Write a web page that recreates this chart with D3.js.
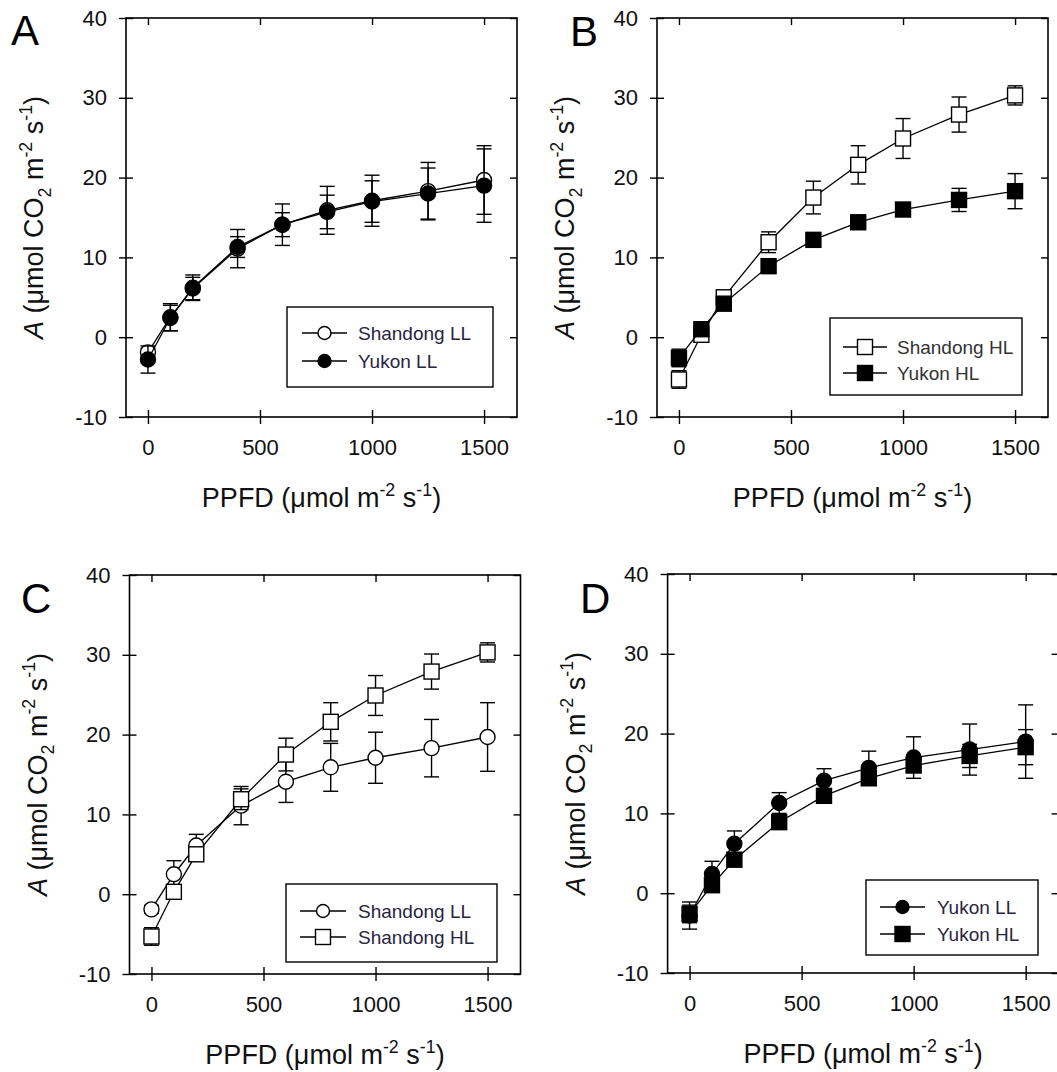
<!DOCTYPE html>
<html>
<head>
<meta charset="utf-8">
<script src="https://cdn.jsdelivr.net/npm/d3@7"></script>
<style>
  html, body { margin: 0; padding: 0; background: #fff; }
  svg { display: block; }
</style>
</head>
<body>
<svg id="fig" width="1057" height="1072"></svg>
<script>
// Light-response curves of net photosynthesis (mean ± SE)
const ppfd = [0, 100, 200, 400, 600, 800, 1000, 1250, 1500];

const shandongLL    = [-1.9, 2.5, 6.1, 11.1, 14.1, 15.9, 17.1, 18.3, 19.7];
const shandongLLErr = [0.5, 1.7, 1.4, 2.4, 2.6, 3.0, 3.2, 3.6, 4.3];
const yukonLL       = [-2.8, 2.4, 6.2, 11.3, 14.1, 15.7, 17.0, 18.0, 19.0];
const yukonLLErr    = [1.7, 1.6, 1.6, 1.3, 1.5, 2.1, 2.6, 3.2, 4.6];
const shandongHL    = [-5.3, 0.3, 5.0, 11.9, 17.5, 21.6, 24.9, 27.9, 30.3];
const shandongHLErr = [1.1, 0.4, 0.5, 1.3, 2.05, 2.4, 2.5, 2.2, 1.2];
const yukonHL       = [-2.6, 1.0, 4.2, 8.9, 12.2, 14.4, 16.0, 17.2, 18.3];
const yukonHLErr    = [1.1, 0.5, 0.5, 0.6, 0.7, 0.8, 0.7, 1.45, 2.2];

const xTicks = [0, 500, 1000, 1500];
const yTicks = [-10, 0, 10, 20, 30, 40];
const xDomain = [-98, 1647];
const yDomain = [-10, 40];

const seriesDefs = {
  "Shandong LL": { values: shandongLL, err: shandongLLErr, shape: "circle", fill: "#fff" },
  "Yukon LL":    { values: yukonLL,    err: yukonLLErr,    shape: "circle", fill: "#000" },
  "Shandong HL": { values: shandongHL, err: shandongHLErr, shape: "square", fill: "#fff" },
  "Yukon HL":    { values: yukonHL,    err: yukonHLErr,    shape: "square", fill: "#000" }
};

const panels = [
  { letter: "A", series: ["Shandong LL", "Yukon LL"] },
  { letter: "B", series: ["Shandong HL", "Yukon HL"] },
  { letter: "C", series: ["Shandong LL", "Shandong HL"] },
  { letter: "D", series: ["Yukon LL", "Yukon HL"] }
];

// page geometry
const W = 391, H = 399;
const frames = {
  A: { left: 126,   top: 18,  letterX: 11,  letterY: 45,  legend: { x: 287, y: 307, w: 206, h: 80, rowY: [333, 361], lineX: [302, 347], textX: 358, color: "#2a2440" } },
  B: { left: 657,   top: 18,  letterX: 570, letterY: 46,  legend: { x: 830, y: 318, w: 192, h: 77, rowY: [347, 373], lineX: [843, 887], textX: 897, color: "#333" } },
  C: { left: 129.5, top: 575, letterX: 21,  letterY: 613, legend: { x: 286, y: 884, w: 211, h: 78, rowY: [911, 937], lineX: [300, 346], textX: 358, color: "#2a2440" } },
  D: { left: 667.6, top: 574, letterX: 580, letterY: 613, legend: { x: 866, y: 880, w: 172, h: 75, rowY: [907, 934], lineX: [880, 925], textX: 937, color: "#2a2440" } }
};

const FONT = "'Liberation Sans', Arial, Helvetica, sans-serif";
const svg = d3.select("#fig");

function richText(sel, parts, size) {
  let shift = 0;
  parts.forEach(p => {
    const target = p.sup ? -0.42 * size : p.sub ? 0.28 * size : 0;
    sel.append("tspan")
      .attr("dy", target - shift)
      .attr("font-size", p.sup || p.sub ? size * 0.66 : size)
      .attr("font-style", p.italic ? "italic" : null)
      .text(p.t);
    shift = target;
  });
}

function marker(g, shape, fill, cx, cy, size) {
  if (shape === "circle") {
    g.append("circle").attr("cx", cx).attr("cy", cy).attr("r", size / 2)
      .attr("fill", fill).attr("stroke", "#000").attr("stroke-width", 1.4);
  } else {
    g.append("rect").attr("x", cx - size / 2).attr("y", cy - size / 2)
      .attr("width", size).attr("height", size)
      .attr("fill", fill).attr("stroke", "#000").attr("stroke-width", 1.4);
  }
}

// plain integers with an ASCII hyphen for negatives
const fmt = d => String(d);

panels.forEach(p => {
  const f = frames[p.letter];
  const g = svg.append("g").attr("transform", `translate(${f.left},${f.top})`);
  const x = d3.scaleLinear().domain(xDomain).range([0, W]);
  const y = d3.scaleLinear().domain(yDomain).range([H, 0]);

  const styleAxis = a => {
    a.select(".domain").remove();
    a.selectAll(".tick line").attr("stroke", "#000").attr("stroke-width", 1.4);
    a.attr("font-family", FONT).attr("font-size", 22);
    a.selectAll(".tick text").attr("fill", "#111");
  };

  // primary axes: ticks straddle the frame, with labels
  g.append("g").call(d3.axisLeft(y).tickValues(yTicks).tickFormat(fmt).tickSize(7).tickPadding(12)).call(styleAxis);
  g.append("g").call(d3.axisRight(y).tickValues(yTicks).tickSize(7).tickFormat("")).call(styleAxis);
  g.append("g").attr("transform", `translate(0,${H})`)
    .call(d3.axisBottom(x).tickValues(xTicks).tickFormat(fmt).tickSize(7).tickPadding(15)).call(styleAxis);
  g.append("g").attr("transform", `translate(0,${H})`)
    .call(d3.axisTop(x).tickValues(xTicks).tickSize(7).tickFormat("")).call(styleAxis);
  // mirrored axes: inward ticks only
  g.append("g").attr("transform", `translate(${W},0)`)
    .call(d3.axisLeft(y).tickValues(yTicks).tickSize(7).tickFormat("")).call(styleAxis);
  g.append("g")
    .call(d3.axisBottom(x).tickValues(xTicks).tickSize(7).tickFormat("")).call(styleAxis);

  g.append("rect").attr("width", W).attr("height", H)
    .attr("fill", "none").attr("stroke", "#000").attr("stroke-width", 1.6);

  // data series
  const line = d3.line().x(d => x(d.x)).y(d => y(d.y));
  p.series.forEach(name => {
    const s = seriesDefs[name];
    const pts = ppfd.map((v, i) => ({ x: v, y: s.values[i], e: s.err[i] }));
    const sg = g.append("g");
    sg.append("path").datum(pts).attr("d", line)
      .attr("fill", "none").attr("stroke", "#000").attr("stroke-width", 1.3);
    pts.forEach(d => {
      const cx = x(d.x), y1 = y(d.y + d.e), y2 = y(d.y - d.e);
      sg.append("line").attr("x1", cx).attr("x2", cx).attr("y1", y1).attr("y2", y2)
        .attr("stroke", "#000").attr("stroke-width", 1.4);
      [y1, y2].forEach(yy => sg.append("line")
        .attr("x1", cx - 7.5).attr("x2", cx + 7.5).attr("y1", yy).attr("y2", yy)
        .attr("stroke", "#000").attr("stroke-width", 1.4));
    });
    pts.forEach(d => marker(sg, s.shape, s.fill, x(d.x), y(d.y), 15));
  });

  // axis titles
  const xt = svg.append("text")
    .attr("x", f.left + W / 2).attr("y", f.top + H + 90)
    .attr("text-anchor", "middle").attr("font-family", FONT).attr("fill", "#111");
  richText(xt, [{ t: "PPFD (μmol m" }, { t: "-2", sup: true }, { t: " s" }, { t: "-1", sup: true }, { t: ")" }], 27);

  const yt = svg.append("text")
    .attr("transform", `translate(${f.left - 83},${f.top + H / 2}) rotate(-90)`)
    .attr("text-anchor", "middle").attr("font-family", FONT).attr("fill", "#111");
  richText(yt, [{ t: "A", italic: true }, { t: " (μmol CO" }, { t: "2", sub: true }, { t: " m" },
    { t: "-2", sup: true }, { t: " s" }, { t: "-1", sup: true }, { t: ")" }], 27);

  // panel letter
  svg.append("text").attr("x", f.letterX).attr("y", f.letterY)
    .attr("font-family", FONT).attr("font-size", 42).attr("fill", "#000").text(p.letter);

  // legend
  const L = f.legend;
  const lg = svg.append("g");
  lg.append("rect").attr("x", L.x).attr("y", L.y).attr("width", L.w).attr("height", L.h)
    .attr("fill", "#fff").attr("stroke", "#000").attr("stroke-width", 1.4);
  p.series.forEach((name, i) => {
    const s = seriesDefs[name];
    const ry = L.rowY[i];
    lg.append("line").attr("x1", L.lineX[0]).attr("x2", L.lineX[1]).attr("y1", ry).attr("y2", ry)
      .attr("stroke", "#000").attr("stroke-width", 1.3);
    marker(lg, s.shape, s.fill, (L.lineX[0] + L.lineX[1]) / 2, ry, s.shape === "circle" ? 13 : 15);
    lg.append("text").attr("x", L.textX).attr("y", ry + 7)
      .attr("font-family", FONT).attr("font-size", 19).attr("fill", L.color).text(name);
  });
});
</script>
</body>
</html>
